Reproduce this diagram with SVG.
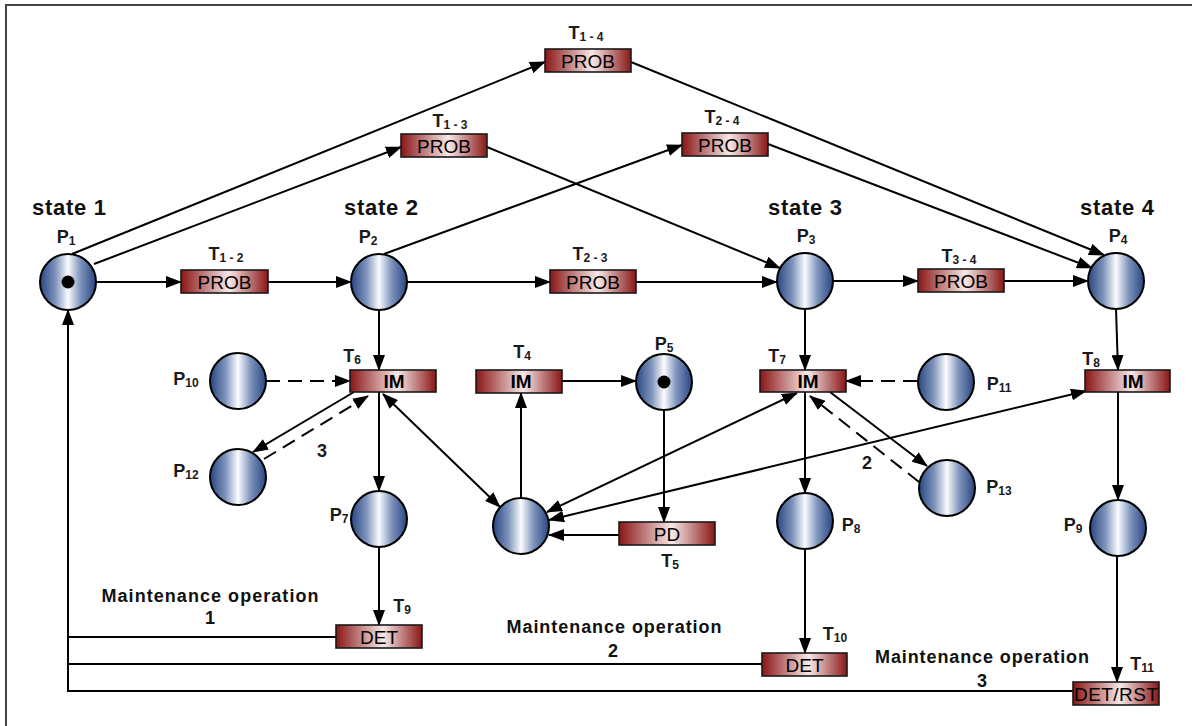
<svg xmlns="http://www.w3.org/2000/svg" width="1192" height="726" viewBox="0 0 1192 726">
<style>
.pl{fill:url(#gp);stroke:#000;stroke-width:2}
.tr{fill:url(#gt);stroke:#1a1a1a;stroke-width:1.6}
.arc{stroke:#000;stroke-width:2;fill:none;marker-end:url(#ah)}
.bi{marker-start:url(#ah)}
.plain{stroke:#000;stroke-width:2;fill:none}
.dash{stroke-dasharray:14 8}
.lb{font-family:"Liberation Sans",Arial,sans-serif;font-weight:bold;font-size:18px;fill:#1a1a1a;text-anchor:middle}
.sb{font-size:12px}
.tt{font-family:"Liberation Sans",Arial,sans-serif;font-size:19px;fill:#000;text-anchor:middle}
.bd{font-weight:bold}
.st{font-family:"Liberation Sans",Arial,sans-serif;font-weight:bold;font-size:22px;fill:#111;text-anchor:middle}
.mo{font-family:"Liberation Sans",Arial,sans-serif;font-weight:bold;font-size:18px;fill:#111;text-anchor:middle}
</style>
<defs>
<linearGradient id="gp" x1="0" y1="0" x2="1" y2="0">
<stop offset="0" stop-color="#27457f"/>
<stop offset="0.28" stop-color="#8095bd"/>
<stop offset="0.5" stop-color="#fbfcfe"/>
<stop offset="0.72" stop-color="#8095bd"/>
<stop offset="1" stop-color="#27457f"/>
</linearGradient>
<linearGradient id="gt" x1="0" y1="0" x2="1" y2="0">
<stop offset="0" stop-color="#8a1616"/>
<stop offset="0.55" stop-color="#f7e8e8"/>
<stop offset="1" stop-color="#8a1616"/>
</linearGradient>
<marker id="ah" viewBox="0 0 16 12" markerWidth="16" markerHeight="12" refX="15" refY="6" markerUnits="userSpaceOnUse" orient="auto-start-reverse">
<path d="M0,0 L16,6 L0,12 z" fill="#000" stroke="none"/>
</marker>
</defs>
<rect width="1192" height="726" fill="#fff"/>
<path d="M6,726 V5 H1192" fill="none" stroke="#444" stroke-width="2"/>

<g id="connectors">
<path class="arc" d="M96,282 H181"/>
<path class="arc" d="M268,282 H351"/>
<path class="arc" d="M407,282 H550"/>
<path class="arc" d="M636,282 H777"/>
<path class="arc" d="M833,281 H918"/>
<path class="arc" d="M1004,281 H1088"/>
<path class="arc" d="M72,254 L545,62"/>
<path class="arc" d="M94,264 L401,147"/>
<path class="arc" d="M487,147 L780,268"/>
<path class="arc" d="M631,62 L1104,255"/>
<path class="arc" d="M384,254 L682,145"/>
<path class="arc" d="M768,144 L1092,268"/>
<path class="arc" d="M379,310 V370"/>
<path class="arc dash" d="M266,381 H350"/>
<path class="arc" d="M354,392 L253,452"/>
<path class="arc dash" d="M264,459 L368,396"/>
<path class="arc" d="M379,392 V491"/>
<path class="arc bi" d="M500,507 L383,394"/>
<path class="arc" d="M521,498 V393"/>
<path class="arc" d="M562,381 H636"/>
<path class="arc" d="M664,410 V522"/>
<path class="arc" d="M619,535 H549"/>
<path class="arc bi" d="M547,512 L797,393"/>
<path class="arc bi" d="M549,520 L1086,391"/>
<path class="arc" d="M805,309 V370"/>
<path class="arc dash" d="M917,381 H846"/>
<path class="arc" d="M830,392 L927,466"/>
<path class="arc dash" d="M919,482 L810,396"/>
<path class="arc" d="M805,392 V493"/>
<path class="arc" d="M1116,309 L1118,370"/>
<path class="arc" d="M1118,392 V500"/>
<path class="arc" d="M379,547 V625"/>
<path class="arc" d="M805,549 V653"/>
<path class="arc" d="M1117,556 V682"/>
<path class="plain" d="M336,637 H68"/>
<path class="plain" d="M762,664 H68"/>
<path class="arc" d="M1073,691 H68 V310"/>
<text class="lb" x="322" y="457">3</text>
<text class="lb" x="867" y="469">2</text>
</g>

<g id="labels">
<text class="st" x="69" y="215" textLength="74">state 1</text>
<text class="st" x="381" y="215" textLength="74">state 2</text>
<text class="st" x="805" y="215" textLength="74">state 3</text>
<text class="st" x="1117" y="215" textLength="74">state 4</text>
<text class="mo" x="210" y="602" textLength="217">Maintenance operation</text>
<text class="mo" x="210" y="624">1</text>
<text class="mo" x="614" y="633" textLength="215">Maintenance operation</text>
<text class="mo" x="613" y="657">2</text>
<text class="mo" x="982" y="663" textLength="214">Maintenance operation</text>
<text class="mo" x="982" y="687">3</text>
</g>

<g id="P1"><circle class="pl" cx="68" cy="282" r="28"/><circle cx="68" cy="282" r="6.5" fill="#000"/><text class="lb" x="66" y="243">P<tspan class="sb" dy="2">1</tspan></text></g>
<g id="P2"><circle class="pl" cx="379" cy="282" r="28"/><text class="lb" x="368" y="243">P<tspan class="sb" dy="2">2</tspan></text></g>
<g id="P3"><circle class="pl" cx="805" cy="281" r="28"/><text class="lb" x="806" y="242">P<tspan class="sb" dy="2">3</tspan></text></g>
<g id="P4"><circle class="pl" cx="1116" cy="281" r="28"/><text class="lb" x="1118" y="242">P<tspan class="sb" dy="2">4</tspan></text></g>
<g id="P5"><circle class="pl" cx="664" cy="382" r="28"/><circle cx="664" cy="382" r="6.5" fill="#000"/><text class="lb" x="664" y="350">P<tspan class="sb" dy="2">5</tspan></text></g>
<g id="P10"><circle class="pl" cx="238" cy="381" r="28"/><text class="lb" x="186" y="385">P<tspan class="sb" dy="2">10</tspan></text></g>
<g id="P11"><circle class="pl" cx="946" cy="382" r="28"/><text class="lb" x="999" y="390">P<tspan class="sb" dy="2">11</tspan></text></g>
<g id="P12"><circle class="pl" cx="238" cy="477" r="28"/><text class="lb" x="186" y="477">P<tspan class="sb" dy="2">12</tspan></text></g>
<g id="P13"><circle class="pl" cx="947" cy="488" r="28"/><text class="lb" x="999" y="493">P<tspan class="sb" dy="2">13</tspan></text></g>
<g id="P7"><circle class="pl" cx="379" cy="519" r="28"/><text class="lb" x="339" y="521">P<tspan class="sb" dy="2">7</tspan></text></g>
<g id="P8"><circle class="pl" cx="805" cy="521" r="28"/><text class="lb" x="851" y="531">P<tspan class="sb" dy="2">8</tspan></text></g>
<g id="P9"><circle class="pl" cx="1118" cy="528" r="28"/><text class="lb" x="1073" y="531">P<tspan class="sb" dy="2">9</tspan></text></g>
<g id="P14"><circle class="pl" cx="521" cy="526" r="28"/></g>

<g id="T1-2"><rect class="tr" x="181" y="270" width="87" height="23"/><text class="tt" x="224.5" y="288.5">PROB</text><text class="lb" x="226" y="260">T<tspan class="sb" dy="2">1 - 2</tspan></text></g>
<g id="T1-3"><rect class="tr" x="401" y="134" width="86" height="23"/><text class="tt" x="444" y="152.5">PROB</text><text class="lb" x="450" y="127">T<tspan class="sb" dy="2">1 - 3</tspan></text></g>
<g id="T1-4"><rect class="tr" x="545" y="49" width="86" height="23"/><text class="tt" x="588" y="67.5">PROB</text><text class="lb" x="586" y="39">T<tspan class="sb" dy="2">1 - 4</tspan></text></g>
<g id="T2-4"><rect class="tr" x="682" y="133" width="86" height="23"/><text class="tt" x="725" y="151.5">PROB</text><text class="lb" x="722" y="123">T<tspan class="sb" dy="2">2 - 4</tspan></text></g>
<g id="T2-3"><rect class="tr" x="550" y="270" width="86" height="23"/><text class="tt" x="593" y="288.5">PROB</text><text class="lb" x="590" y="260">T<tspan class="sb" dy="2">2 - 3</tspan></text></g>
<g id="T3-4"><rect class="tr" x="918" y="269" width="86" height="23"/><text class="tt" x="961" y="287.5">PROB</text><text class="lb" x="959" y="262">T<tspan class="sb" dy="2">3 - 4</tspan></text></g>
<g id="T6"><rect class="tr" x="350" y="370" width="86" height="22"/><text class="tt bd" x="394" y="388">IM</text><text class="lb" x="352" y="362">T<tspan class="sb" dy="2">6</tspan></text></g>
<g id="T4"><rect class="tr" x="476" y="370" width="86" height="23"/><text class="tt bd" x="521" y="388">IM</text><text class="lb" x="522" y="358">T<tspan class="sb" dy="2">4</tspan></text></g>
<g id="T7"><rect class="tr" x="760" y="370" width="86" height="22"/><text class="tt bd" x="808" y="388">IM</text><text class="lb" x="777" y="362">T<tspan class="sb" dy="2">7</tspan></text></g>
<g id="T8"><rect class="tr" x="1085" y="370" width="85" height="22"/><text class="tt bd" x="1133" y="388">IM</text><text class="lb" x="1091" y="365">T<tspan class="sb" dy="2">8</tspan></text></g>
<g id="T5"><rect class="tr" x="619" y="522" width="96" height="23"/><text class="tt" x="667" y="540.5">PD</text><text class="lb" x="670" y="567">T<tspan class="sb" dy="2">5</tspan></text></g>
<g id="T9"><rect class="tr" x="336" y="625" width="86" height="23"/><text class="tt" x="379" y="643.5">DET</text><text class="lb" x="402" y="612">T<tspan class="sb" dy="2">9</tspan></text></g>
<g id="T10"><rect class="tr" x="762" y="653" width="85" height="23"/><text class="tt" x="804.5" y="671.5">DET</text><text class="lb" x="835" y="640">T<tspan class="sb" dy="2">10</tspan></text></g>
<g id="T11"><rect class="tr" x="1073" y="682" width="86" height="23"/><text class="tt" x="1116" y="700.5" textLength="84">DET/RST</text><text class="lb" x="1142" y="670">T<tspan class="sb" dy="2">11</tspan></text></g>
</svg>
